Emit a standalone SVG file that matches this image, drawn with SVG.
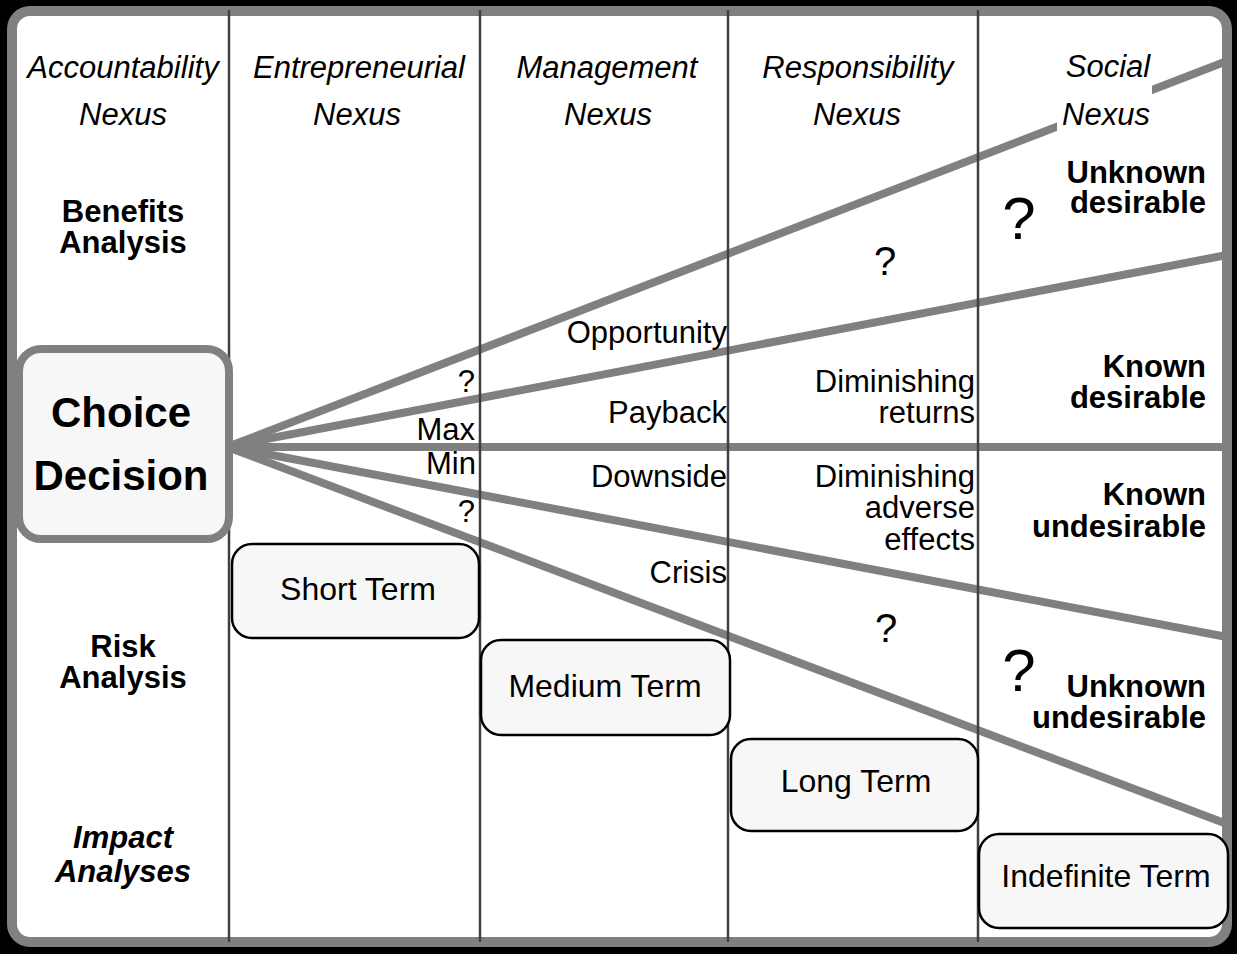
<svg xmlns="http://www.w3.org/2000/svg" width="1237" height="954" viewBox="0 0 1237 954">
<style>
  text { font-family: "Liberation Sans", Arial, sans-serif; fill: #000; }
  .hdr { font-size: 31px; font-style: italic; text-anchor: middle; }
  .row { font-size: 31px; font-weight: bold; text-anchor: middle; }
  .lbl { font-size: 31px; text-anchor: end; }
  .cat { font-size: 31px; font-weight: bold; text-anchor: end; }
  .q { text-anchor: middle; }
  .fan { stroke: #808080; stroke-width: 8; fill: none; }
  .col { stroke: #404040; stroke-width: 2.5; }
  .term rect { fill: #f7f7f7; stroke: #000; stroke-width: 2.5; }
  .term text { font-size: 32px; text-anchor: middle; }
</style>
<rect x="0" y="0" width="1237" height="954" fill="#000"/>
<rect id="frame" x="12" y="11" width="1215" height="931" rx="18" fill="#fff" stroke="#808080" stroke-width="10"/>
<g id="connectors">
  <line class="fan" x1="230" y1="446" x2="1227" y2="61"/>
  <line class="fan" x1="230" y1="446" x2="1227" y2="255"/>
  <line class="fan" x1="230" y1="447" x2="1227" y2="447"/>
  <line class="fan" x1="230" y1="447" x2="1227" y2="637"/>
  <line class="fan" x1="230" y1="448" x2="1227" y2="824"/>
</g>
<rect x="1057" y="82" width="95" height="50" fill="#fff"/>
<g id="columns">
  <line class="col" x1="229" y1="10" x2="229" y2="942"/>
  <line class="col" x1="480" y1="10" x2="480" y2="942"/>
  <line class="col" x1="728" y1="10" x2="728" y2="942"/>
  <line class="col" x1="978" y1="10" x2="978" y2="942"/>
</g>
<g id="headers">
  <text class="hdr" x="123" y="78">Accountability</text>
  <text class="hdr" x="123" y="125">Nexus</text>
  <text class="hdr" x="359" y="78">Entrepreneurial</text>
  <text class="hdr" x="357" y="125">Nexus</text>
  <text class="hdr" x="607" y="78">Management</text>
  <text class="hdr" x="608" y="125">Nexus</text>
  <text class="hdr" x="858" y="78">Responsibility</text>
  <text class="hdr" x="857" y="125">Nexus</text>
  <text class="hdr" x="1108" y="77">Social</text>
  <text class="hdr" x="1106" y="125">Nexus</text>
</g>
<g id="rows">
  <text class="row" x="123" y="222">Benefits</text>
  <text class="row" x="123" y="253">Analysis</text>
  <text class="row" x="123" y="657">Risk</text>
  <text class="row" x="123" y="688">Analysis</text>
  <text class="row" x="123" y="848" font-style="italic">Impact</text>
  <text class="row" x="123" y="882" font-style="italic">Analyses</text>
</g>
<g id="choice">
  <rect x="19" y="349" width="210" height="190" rx="22" fill="#f7f7f7" stroke="#808080" stroke-width="8"/>
  <text x="121" y="427" font-size="42" font-weight="bold" text-anchor="middle">Choice</text>
  <text x="121" y="490" font-size="42" font-weight="bold" text-anchor="middle">Decision</text>
</g>
<g id="labels">
  <text class="lbl" x="475" y="392" font-size="28">?</text>
  <text class="lbl" x="475" y="440">Max</text>
  <text class="lbl" x="476" y="474">Min</text>
  <text class="lbl" x="475" y="522" font-size="28">?</text>
  <text class="lbl" x="727" y="343">Opportunity</text>
  <text class="lbl" x="727" y="423">Payback</text>
  <text class="lbl" x="727" y="487">Downside</text>
  <text class="lbl" x="727" y="583">Crisis</text>
  <text class="lbl" x="975" y="392">Diminishing</text>
  <text class="lbl" x="975" y="423">returns</text>
  <text class="lbl" x="975" y="487">Diminishing</text>
  <text class="lbl" x="975" y="518">adverse</text>
  <text class="lbl" x="975" y="550">effects</text>
  <text class="q" x="885" y="275" font-size="40">?</text>
  <text class="q" x="886" y="642" font-size="40">?</text>
  <text class="q" x="1019" y="239" font-size="60">?</text>
  <text class="q" x="1019" y="691" font-size="60">?</text>
  <text class="cat" x="1206" y="183">Unknown</text>
  <text class="cat" x="1206" y="213">desirable</text>
  <text class="cat" x="1206" y="377">Known</text>
  <text class="cat" x="1206" y="408">desirable</text>
  <text class="cat" x="1206" y="505">Known</text>
  <text class="cat" x="1206" y="537">undesirable</text>
  <text class="cat" x="1206" y="697">Unknown</text>
  <text class="cat" x="1206" y="728">undesirable</text>
</g>
<g id="short-term" class="term">
  <rect x="232" y="544" width="247" height="94" rx="20"/>
  <text x="358" y="600">Short Term</text>
</g>
<g id="medium-term" class="term">
  <rect x="481" y="640" width="249" height="95" rx="20"/>
  <text x="605" y="697">Medium Term</text>
</g>
<g id="long-term" class="term">
  <rect x="731" y="739" width="247" height="92" rx="20"/>
  <text x="856" y="792">Long Term</text>
</g>
<g id="indefinite-term" class="term">
  <rect x="979" y="834" width="249" height="94" rx="20"/>
  <text x="1106" y="887">Indefinite Term</text>
</g>
</svg>
